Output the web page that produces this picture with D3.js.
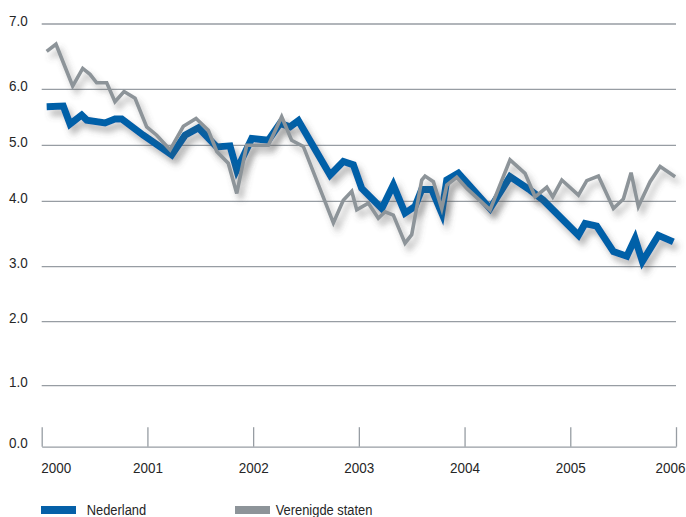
<!DOCTYPE html>
<html>
<head>
<meta charset="utf-8">
<script src="https://cdn.jsdelivr.net/npm/d3@7"></script>
<style>
  html, body { margin: 0; padding: 0; background: #fff; }
  svg { display: block; }
  text { font-family: "Liberation Sans", Arial, sans-serif; fill: #262626; }
</style>
</head>
<body>
<svg id="chart" width="686" height="517"></svg>
<script>
// Year ticks and y-axis tick values
const yearTicks = [2000, 2001, 2002, 2003, 2004, 2005, 2006];
const yTicks = [0, 1, 2, 3, 4, 5, 6, 7];

// Nederland: observation date (decimal year) and value
const nlYears = [2000.047, 2000.204, 2000.268, 2000.378, 2000.426, 2000.599, 2000.693, 2000.757, 2000.961,
  2001.23, 2001.356, 2001.482, 2001.656, 2001.781, 2001.845, 2001.987,
  2002.144, 2002.254, 2002.349, 2002.428, 2002.728, 2002.853, 2002.948,
  2003.027, 2003.217, 2003.326, 2003.437, 2003.531, 2003.595, 2003.69, 2003.784, 2003.832, 2003.941,
  2004.241, 2004.43, 2004.62, 2004.745,
  2005.077, 2005.14, 2005.25, 2005.408, 2005.535, 2005.613, 2005.682, 2005.833, 2005.975];
const nlValues = [5.69, 5.70, 5.38, 5.54, 5.45, 5.40, 5.47, 5.47, 5.18,
  4.83, 5.18, 5.31, 4.97, 4.99, 4.56, 5.12,
  5.09, 5.39, 5.33, 5.44, 4.47, 4.71, 4.65,
  4.23, 3.89, 4.29, 3.82, 3.92, 4.21, 4.21, 3.82, 4.38, 4.50,
  3.89, 4.44, 4.20, 4.02,
  3.48, 3.66, 3.62, 3.23, 3.16, 3.43, 3.08, 3.48, 3.38];

// Verenigde staten: observation date (decimal year) and value
const usYears = [2000.047, 2000.135, 2000.293, 2000.388, 2000.457, 2000.52, 2000.615, 2000.693, 2000.779, 2000.883, 2000.993,
  2001.088, 2001.214, 2001.34, 2001.46, 2001.576, 2001.656, 2001.765, 2001.845, 2001.939,
  2002.144, 2002.27, 2002.364, 2002.475, 2002.759, 2002.853, 2002.933, 2002.98,
  2003.09, 2003.184, 2003.248, 2003.326, 2003.437, 2003.5, 2003.595, 2003.626, 2003.705, 2003.784, 2003.832, 2003.926,
  2004.021, 2004.241, 2004.43, 2004.572, 2004.667, 2004.778, 2004.834, 2004.92,
  2005.077, 2005.156, 2005.266, 2005.408, 2005.502, 2005.575, 2005.644, 2005.755, 2005.85, 2005.992];
const usValues = [6.58, 6.69, 6.05, 6.32, 6.23, 6.10, 6.10, 5.78, 5.96, 5.84, 5.33,
  5.18, 4.92, 5.34, 5.48, 5.27, 4.89, 4.68, 4.14, 5.00,
  5.00, 5.51, 5.09, 4.98, 3.67, 4.02, 4.18, 3.87,
  3.97, 3.74, 3.84, 3.79, 3.36, 3.49, 4.38, 4.45, 4.35, 3.89, 4.29, 4.43,
  4.23, 3.87, 4.74, 4.50, 4.08, 4.25, 4.08, 4.38,
  4.11, 4.37, 4.45, 3.89, 4.04, 4.51, 3.92, 4.35, 4.62, 4.44];

const seriesNames = ["Nederland", "Verenigde staten"];
const seriesColors = ["#0560a8", "#8d9499"];

const svg = d3.select("#chart");

const x = d3.scaleLinear().domain([2000, 2006]).range([41.7, 676]);
// value axis: gridlines sit at hand-tuned heights per unit
const y = d3.scaleLinear()
  .domain(yTicks)
  .range([446.7, 385.7, 321.7, 266.7, 201.3, 145.3, 89.3, 24]);

const gridColor = "#979da3";
// condensed look for all labels
const squeeze = "scale(0.87,1)";

// drop shadow under the series lines
const defs = svg.append("defs");
const f = defs.append("filter").attr("id", "shadow")
  .attr("x", "-10%").attr("y", "-20%").attr("width", "130%").attr("height", "160%");
f.append("feDropShadow")
  .attr("dx", 4).attr("dy", 6).attr("stdDeviation", 3.4)
  .attr("flood-color", "#555").attr("flood-opacity", 0.42);

// horizontal gridlines (excluding the baseline)
svg.append("g").selectAll("line")
  .data(yTicks.filter(v => v > 0))
  .join("line")
  .attr("x1", x(2000)).attr("x2", x(2006))
  .attr("y1", d => y(d)).attr("y2", d => y(d))
  .attr("stroke", gridColor).attr("stroke-width", 1.3);

// y tick labels
svg.append("g").selectAll("text")
  .data(yTicks)
  .join("text")
  .attr("transform", d => `translate(9,${y(d) + 1.6}) ${squeeze}`)
  .attr("font-size", 15.5)
  .text(d => d.toFixed(1));

// x axis with tall year ticks
const xAxis = d3.axisBottom(x)
  .tickValues(yearTicks)
  .tickSizeInner(-19.5)
  .tickSizeOuter(0)
  .tickFormat(d3.format("d"));
const gx = svg.append("g").attr("transform", `translate(0,${y(0)})`).call(xAxis);
gx.select(".domain").attr("stroke", gridColor).attr("stroke-width", 1.3);
gx.selectAll(".tick line").attr("stroke", gridColor).attr("stroke-width", 1.3);
gx.selectAll(".tick text")
  .attr("font-size", 15.5)
  .attr("fill", "#262626")
  .attr("font-family", "'Liberation Sans', Arial, sans-serif")
  .attr("y", 0)
  .attr("dy", 0)
  .attr("text-anchor", (d, i) => i === 0 ? "start" : (i === yearTicks.length - 1 ? "end" : "middle"))
  .attr("transform", (d, i) => {
    const dx = i === 0 ? -1 : (i === yearTicks.length - 1 ? 9 : 0);
    return `translate(${dx},26.5) ${squeeze}`;
  });

// series lines
const line = d3.line().x(d => x(d[0])).y(d => y(d[1]));
const nlData = nlYears.map((t, i) => [t, nlValues[i]]);
const usData = usYears.map((t, i) => [t, usValues[i]]);

svg.append("path")
  .datum(nlData)
  .attr("d", line)
  .attr("fill", "none")
  .attr("stroke", seriesColors[0])
  .attr("stroke-width", 7)
  .attr("stroke-linejoin", "miter")
  .attr("filter", "url(#shadow)");

svg.append("path")
  .datum(usData)
  .attr("d", line)
  .attr("fill", "none")
  .attr("stroke", seriesColors[1])
  .attr("stroke-width", 3.6)
  .attr("stroke-linejoin", "miter")
  .attr("filter", "url(#shadow)");

// legend
const legendX = [41, 235];
const lg = svg.append("g").selectAll("g")
  .data(seriesNames)
  .join("g")
  .attr("transform", (d, i) => `translate(${legendX[i]},506)`);
lg.append("rect")
  .attr("width", 35).attr("height", 8)
  .attr("fill", (d, i) => seriesColors[i]);
lg.append("text")
  .attr("transform", (d, i) => `translate(${i === 0 ? 45.7 : 40.7},8.8) scale(0.86,1)`)
  .attr("font-size", 15)
  .text(d => d);
</script>
</body>
</html>
